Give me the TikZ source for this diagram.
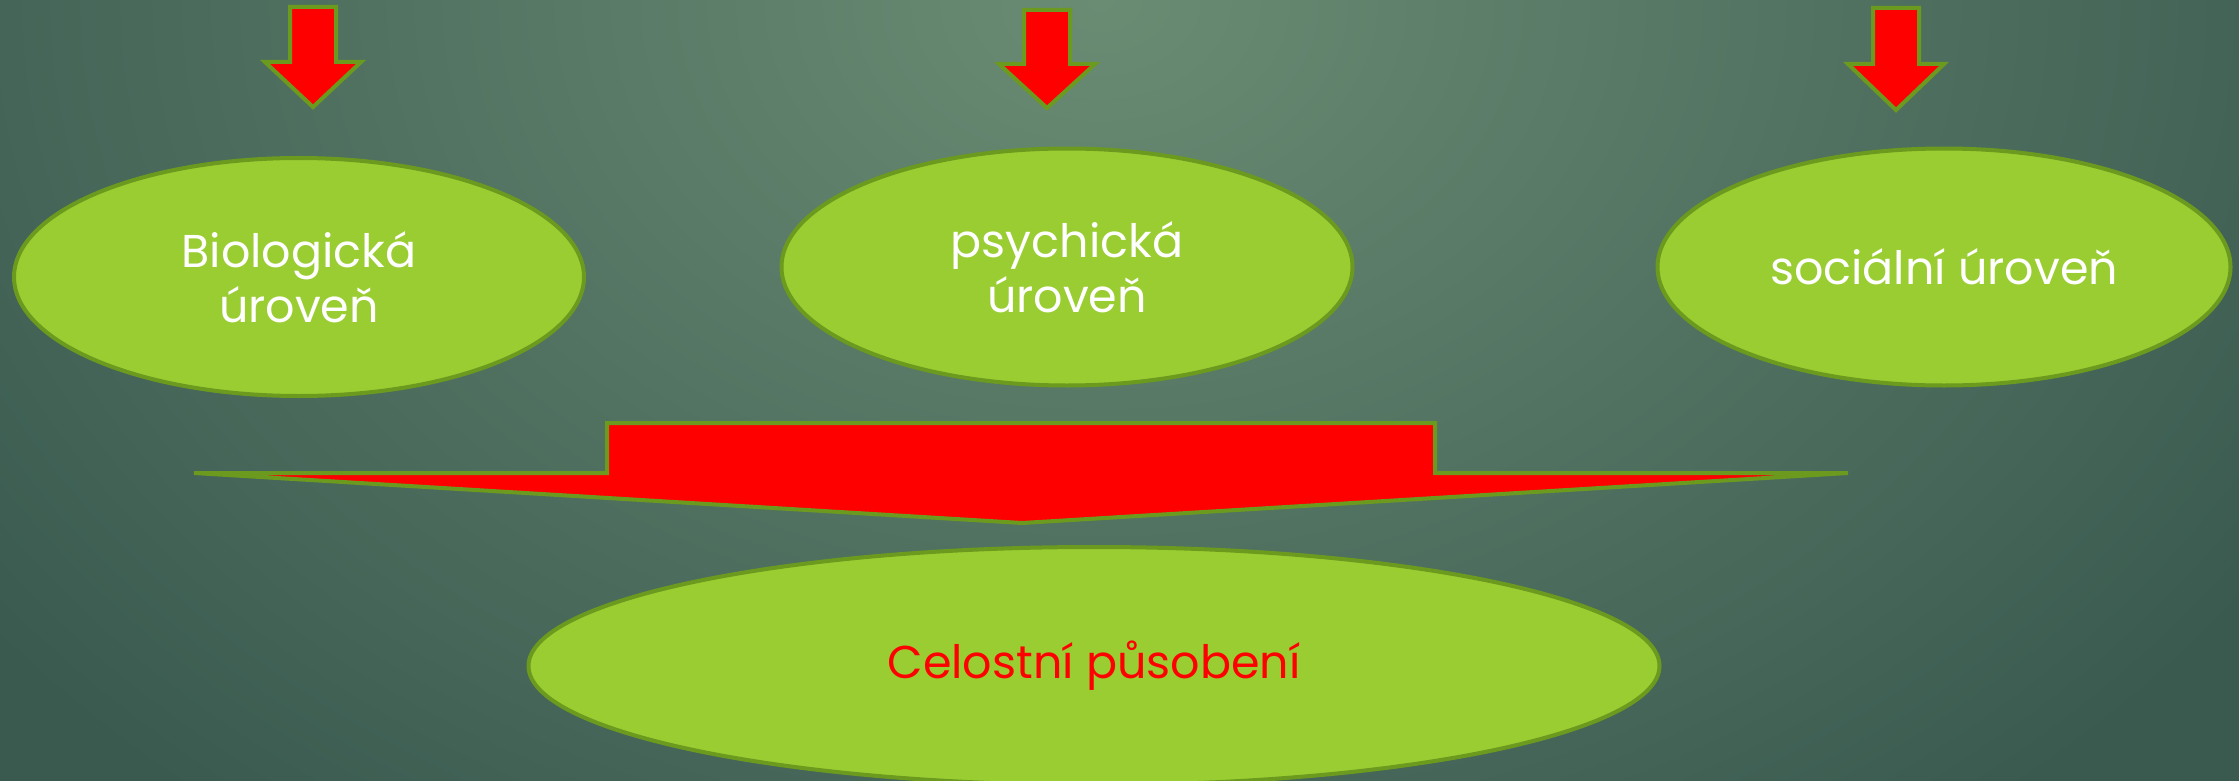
\documentclass[tikz,border=0pt]{standalone}
\usepackage{fontspec}
\setmainfont{Poppins}
\usetikzlibrary{shapes.geometric}
\definecolor{bglight}{HTML}{6A8C73}
\definecolor{bgdark}{HTML}{3A5A50}
\definecolor{ellfill}{HTML}{9ACD32}
\definecolor{ellline}{HTML}{6B9A1F}
\definecolor{arrred}{HTML}{FF0000}
\tikzset{
  level/.style={ellipse, draw=ellline, line width=4pt, fill=ellfill, inner sep=0pt,
    text=white, align=center, font=\fontsize{46}{55}\selectfont},
  blockarrow/.style={draw=ellline, line width=4pt, fill=arrred, line join=miter}
}
\newcommand\myarrow[4]{% cx, top, heady, tipy
  \draw[blockarrow] (#1-23,#2) -- (#1+23,#2) -- (#1+23,#3) -- (#1+48,#3) -- (#1,#4)
    -- (#1-48,#3) -- (#1-23,#3) -- cycle;}
\begin{document}
\begin{tikzpicture}[x=1pt,y=-1pt]
\useasboundingbox (0,0) rectangle (2239,781);
\begin{scope}
  \clip (0,0) rectangle (2239,781);
  \shade[inner color=bglight, outer color=bgdark] (-300,-1050) rectangle (2500,1050);
\end{scope}
% top arrows
\myarrow{313}{7}{62}{107}
\myarrow{1047}{10}{64}{108}
\myarrow{1896}{8}{64}{110}
% ellipses
\node[level, minimum width=570pt, minimum height=238pt] (bio) at (299,277) {Biologická\\úroveň};
\node[level, minimum width=571pt, minimum height=237pt] (psy) at (1067,267) {psychická\\úroveň};
\node[level, minimum width=573pt, minimum height=237pt] (soc) at (1944,267) {sociální úroveň};
% big arrow
\draw[blockarrow] (194,473) -- (607,473) -- (607,423) -- (1435,423) -- (1435,473) -- (1848,473) -- (1022,523) -- cycle;
\node[level, text=arrred, minimum width=1131pt, minimum height=238pt,
  font=\fontsize{46}{55}\selectfont] (whole) at (1094,666) {Celostní působení};
\end{tikzpicture}
\end{document}
